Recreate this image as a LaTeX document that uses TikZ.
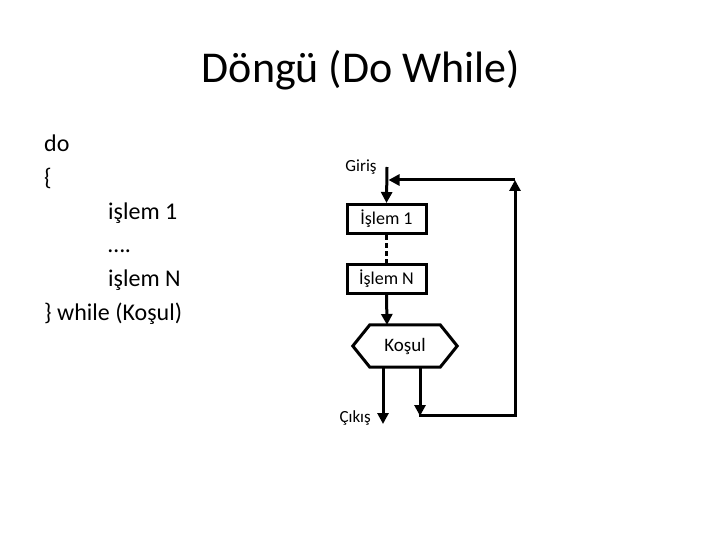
\documentclass[tikz,border=0pt]{standalone}
\usepackage{fontspec}
\setmainfont{Carlito}
\usetikzlibrary{arrows.meta}
\begin{document}
\begin{tikzpicture}[x=1pt,y=-1pt,
  ln/.style={line width=3pt},
  arr/.style={ln,-{Triangle[length=11pt,width=11pt]}},
  code/.style={anchor=base west,inner sep=0pt,font=\fontsize{24}{28}\selectfont},
  procbox/.style={draw,line width=3pt,minimum width=79pt,minimum height=29pt,inner sep=0pt,font=\fontsize{18}{21}\selectfont},
  lbl/.style={inner sep=0pt,font=\fontsize{17}{20}\selectfont}]
\useasboundingbox (0,0) rectangle (720,540);
\node[anchor=base,inner sep=0pt,font=\fontsize{44}{52}\selectfont] (title) at (361,83) {Döngü (Do While)};
% code listing
\node[code] (c1) at (44,152) {do};
\node[code] (c2) at (44,185.6) {\{};
\node[code] (c3) at (108,219.2) {işlem 1};
\node[code] (c4) at (108,252.8) {….};
\node[code] (c5) at (108,286.4) {işlem N};
\node[code] (c6) at (44,320) {\} while (Koşul)};
% flowchart
\node[lbl,anchor=base] (giris) at (361,172) {Giriş};
\coordinate (gtop) at (387,167);
\node[procbox] (p1) at (386.5,219) {İşlem 1};
\node[procbox] (pn) at (386.5,278.5) {İşlem N};
\node[inner sep=0pt,minimum width=104pt,minimum height=42pt,font=\fontsize{19}{22}\selectfont] (kosul) at (405,346) {Koşul};
\draw[ln,line join=miter] ([xshift=17pt]kosul.north west) -- ([xshift=-17pt]kosul.north east) -- (kosul.east)
  -- ([xshift=-17pt]kosul.south east) -- ([xshift=17pt]kosul.south west) -- (kosul.west) -- cycle;
\coordinate (kin) at (387,325);
\coordinate (kl) at (383,367);
\coordinate (kr) at (420,367);
\coordinate (cikisend) at (383,424);
\coordinate (loopend) at (420,416);
\coordinate (lb) at (420,415);
\coordinate (rb) at (515,415);
\coordinate (rt) at (515,180);
\coordinate (ft) at (387,180);
\node[lbl,anchor=base east] (cikis) at (371,422) {Çıkış};
\draw[arr] (gtop) -- (p1.north);
\draw[ln,dashed,dash pattern=on 5pt off 3pt] (p1.south) -- (pn.north);
\draw[arr] (pn.south) -- (kin);
\draw[arr] (kl) -- (cikisend);
\draw[arr] (kr) -- (loopend);
\draw[arr,line cap=butt] ([xshift=-1.5pt]lb) -- (rb) -- (rt);
\draw[arr] (rt) -- ([xshift=1.5pt]ft);
\end{tikzpicture}
\end{document}
